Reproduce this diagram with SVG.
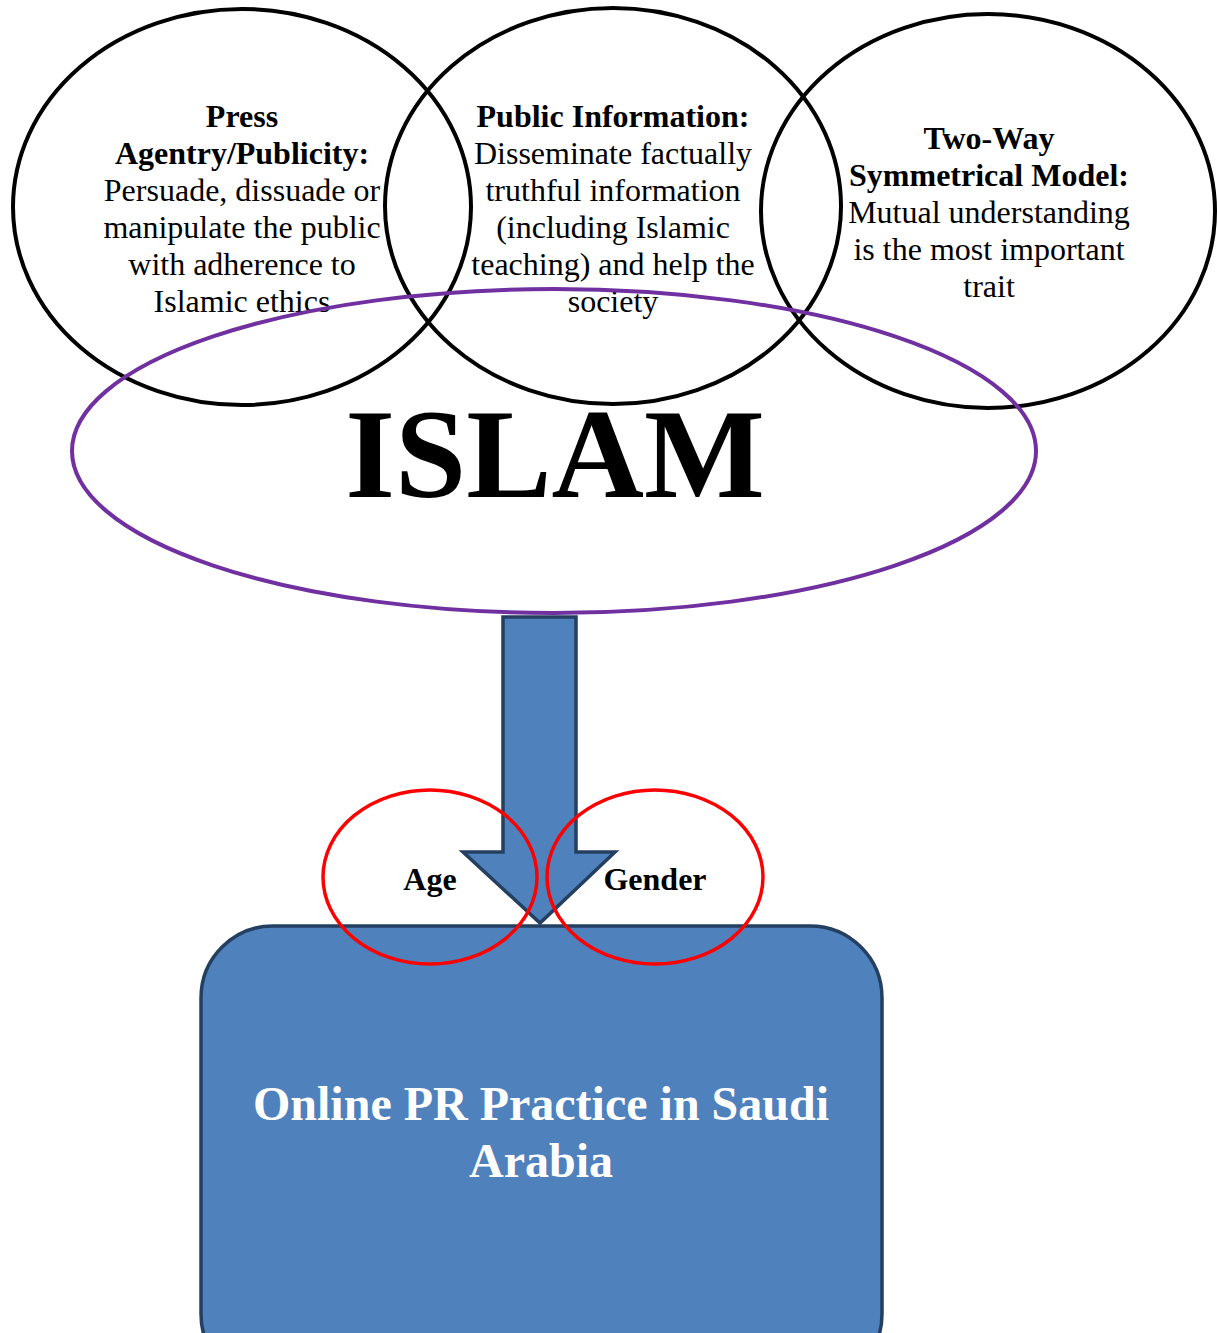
<svg xmlns="http://www.w3.org/2000/svg" width="1217" height="1333" viewBox="0 0 1217 1333">
<style>
.bk{fill:none;stroke:#000;stroke-width:4}
.rd{fill:none;stroke:#FF0000;stroke-width:3.5}
.t{font-family:"Liberation Serif","Times New Roman",serif;font-size:32px;fill:#000;text-anchor:middle}
.b{font-weight:bold}
.w{fill:#fff;font-weight:bold;font-size:48px}
</style>
<rect width="1217" height="1333" fill="#fff"/>
<g id="connectors">
<path d="M503,617 H576 V852 H615 L540,923 L463,852 H503 Z" fill="#4F81BD" stroke="#243F60" stroke-width="3.5" stroke-linejoin="miter"/>
</g>
<g id="pr-box">
<rect x="201" y="926" width="681" height="460" rx="72" ry="72" fill="#4F81BD" stroke="#243F60" stroke-width="3.5"/>
<text class="t w" x="541" y="1120">Online PR Practice in Saudi</text>
<text class="t w" x="541" y="1177">Arabia</text>
</g>
<g id="press-agentry">
<ellipse class="bk" cx="242" cy="207" rx="229" ry="198"/>
<text class="t" x="242" y="127"><tspan class="b">Press</tspan><tspan class="b" x="242" dy="37">Agentry/Publicity:</tspan><tspan x="242" dy="37">Persuade, dissuade or</tspan><tspan x="242" dy="37">manipulate the public</tspan><tspan x="242" dy="37">with adherence to</tspan><tspan x="242" dy="37">Islamic ethics</tspan></text>
</g>
<g id="public-information">
<ellipse class="bk" cx="613" cy="206" rx="228" ry="198"/>
<text class="t" x="613" y="127"><tspan class="b">Public Information:</tspan><tspan x="613" dy="37">Disseminate factually</tspan><tspan x="613" dy="37">truthful information</tspan><tspan x="613" dy="37">(including Islamic</tspan><tspan x="613" dy="37">teaching) and help the</tspan><tspan x="613" dy="37">society</tspan></text>
</g>
<g id="two-way">
<ellipse class="bk" cx="988" cy="211" rx="227" ry="197"/>
<text class="t" x="989" y="149"><tspan class="b">Two-Way</tspan><tspan class="b" x="989" dy="37">Symmetrical Model:</tspan><tspan x="989" dy="37">Mutual understanding</tspan><tspan x="989" dy="37">is the most important</tspan><tspan x="989" dy="37">trait</tspan></text>
</g>
<g id="islam">
<ellipse cx="554" cy="451" rx="482" ry="162" fill="none" stroke="#7030A0" stroke-width="4"/>
<text class="t b" x="555" y="497" style="font-size:128px">ISLAM</text>
</g>
<g id="age">
<ellipse class="rd" cx="430" cy="877" rx="107" ry="87"/>
<text class="t b" x="430" y="890" style="font-size:32px">Age</text>
</g>
<g id="gender">
<ellipse class="rd" cx="655" cy="877" rx="108" ry="87"/>
<text class="t b" x="655" y="890" style="font-size:32px">Gender</text>
</g>
</svg>
